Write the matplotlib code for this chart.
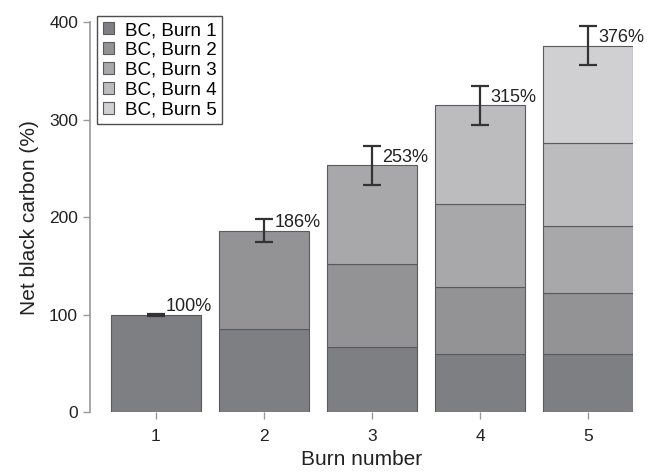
import matplotlib.pyplot as plt
import numpy as np

# burn number on the x axis
burns = [1, 2, 3, 4, 5]

# stacked contribution of each burn's BC (layer k starts at burn k)
bc_burn_1 = [100, 85, 67, 60, 60]
bc_burn_2 = [101, 85, 68, 62]
bc_burn_3 = [101, 85, 69]
bc_burn_4 = [102, 85]
bc_burn_5 = [100]

totals = [100, 186, 253, 315, 376]
errors = [1, 12, 20, 20, 20]
labels = ["BC, Burn 1", "BC, Burn 2", "BC, Burn 3", "BC, Burn 4", "BC, Burn 5"]
colors = ["#7e7f82", "#939396", "#a8a8aa", "#bcbcbe", "#d0d0d2"]

plt.rcParams["font.family"] = ["Liberation Sans", "DejaVu Sans"]

fig = plt.figure(figsize=(6.51, 4.73), dpi=100)
ax = fig.add_axes([0.138, 0.129, 0.835, 0.824])

layers = [bc_burn_1, bc_burn_2, bc_burn_3, bc_burn_4, bc_burn_5]
bottom = np.zeros(len(burns))
width = 0.835
for k, layer in enumerate(layers):
    xs = np.array(burns[k:])
    idx = xs - 1
    ax.bar(
        xs,
        layer,
        width=width,
        bottom=bottom[idx],
        color=colors[k],
        edgecolor="#5a5a5c",
        linewidth=0.8,
        label=labels[k],
        zorder=2,
    )
    bottom[idx] += np.array(layer)

ax.errorbar(
    burns,
    totals,
    yerr=errors,
    fmt="none",
    ecolor="#333333",
    elinewidth=1.6,
    capsize=6.8,
    capthick=1.6,
    zorder=3,
)

for x, t, e in zip(burns, totals, errors):
    ax.text(x + 0.095, t + 8, f"{t}%", fontsize=13, va="center", ha="left",
            color="#222222", zorder=4)

ax.set_xlim(0.39, 5.418)
ax.set_ylim(0, 400)
ax.set_xticks(burns)
ax.set_yticks([0, 100, 200, 300, 400])
ax.spines["top"].set_visible(False)
ax.spines["right"].set_visible(False)
ax.spines["bottom"].set_visible(False)
ax.spines["left"].set_color("#999999")
ax.spines["left"].set_linewidth(1.2)
ax.tick_params(axis="both", colors="#999999", labelcolor="#222222",
               labelsize=12.5, length=5, width=1.0)
ax.tick_params(axis="x", pad=7.5)
ax.set_xlabel("Burn number", fontsize=15, color="#222222", labelpad=4)
ax.set_ylabel("Net black carbon (%)", fontsize=15, color="#222222", labelpad=7)

leg = ax.legend(
    loc="upper left",
    bbox_to_anchor=(0.013, 1.015),
    borderaxespad=0,
    fontsize=13.5,
    frameon=True,
    fancybox=False,
    edgecolor="#222222",
    handlelength=0.6,
    handleheight=0.6,
    handletextpad=0.6,
    labelspacing=0.15,
    borderpad=0.3,
)
leg.get_frame().set_linewidth(1.0)

fig.savefig("out.png", dpi=100)
